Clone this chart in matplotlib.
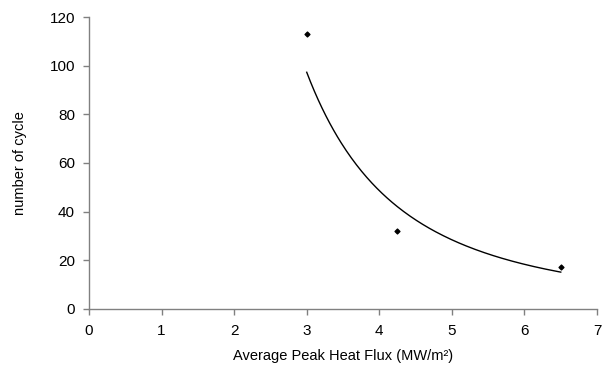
import numpy as np
import matplotlib
matplotlib.use("Agg")
import matplotlib.pyplot as plt

plt.rcParams["font.family"] = ["Liberation Sans", "DejaVu Sans"]

# measured points
heat_flux = np.array([3.0, 4.25, 6.5])
cycles = np.array([113, 32, 17])

x_ticks = [0, 1, 2, 3, 4, 5, 6, 7]
y_ticks = [0, 20, 40, 60, 80, 100, 120]

# power-law trendline (y = a * x^b), fitted on log scale
b, ln_a = np.polyfit(np.log(heat_flux), np.log(cycles), 1)
xf = np.linspace(heat_flux.min(), heat_flux.max(), 200)
yf = np.exp(ln_a) * xf ** b

fig = plt.figure(figsize=(6.07, 3.67), dpi=100)
ax = fig.add_axes([0.1466, 0.159, 0.837, 0.794])

ax.plot(xf, yf, color="black", lw=1.0)
ax.scatter(heat_flux, cycles, marker="D", s=6, color="black", zorder=3)

ax.set_xlim(0, 7)
ax.set_ylim(0, 120)
ax.set_xticks(x_ticks)
ax.set_yticks(y_ticks)

for side in ["top", "right"]:
    ax.spines[side].set_visible(False)
for side in ["left", "bottom"]:
    ax.spines[side].set_color("#808080")
    ax.spines[side].set_linewidth(1.0)

ax.tick_params(direction="out", length=4, width=1, color="#808080",
               labelsize=11, labelcolor="black")
ax.tick_params(axis="x", pad=7)
ax.tick_params(axis="y", pad=6)

ax.set_xlabel("Average Peak Heat Flux (MW/m²)", fontsize=10.5, labelpad=8)
ax.set_ylabel("number of cycle", fontsize=10.5, labelpad=16)

fig.savefig("out.png", dpi=100)
